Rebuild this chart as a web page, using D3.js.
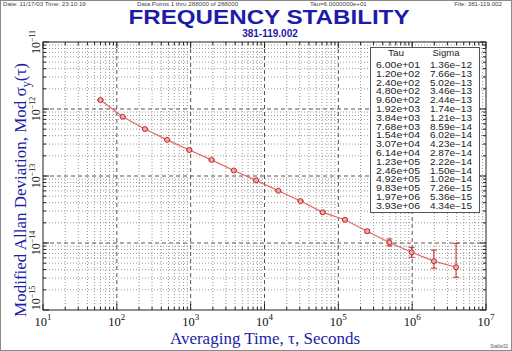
<!DOCTYPE html>
<html>
<head>
<meta charset="utf-8">
<script src="https://cdn.jsdelivr.net/npm/d3@7"></script>
<style>
  body { margin: 0; background: #fff; }
  svg { display: block; }
</style>
</head>
<body>
<svg width="512" height="351"></svg>
<script>
// data
const tau = [6.00e+01, 1.20e+02, 2.40e+02, 4.80e+02, 9.60e+02, 1.92e+03, 3.84e+03, 7.68e+03,
  1.54e+04, 3.07e+04, 6.14e+04, 1.23e+05, 2.46e+05, 4.92e+05, 9.83e+05, 1.97e+06, 3.93e+06];
const sigma = [1.36e-12, 7.66e-13, 5.02e-13, 3.46e-13, 2.44e-13, 1.74e-13, 1.21e-13, 8.59e-14,
  6.02e-14, 4.23e-14, 2.87e-14, 2.22e-14, 1.50e-14, 1.02e-14, 7.26e-15, 5.36e-15, 4.34e-15];
const sigmaLo = [1.34e-12, 7.56e-13, 4.96e-13, 3.42e-13, 2.41e-13, 1.72e-13, 1.19e-13, 8.47e-14,
  5.93e-14, 4.16e-14, 2.80e-14, 2.15e-14, 1.42e-14, 9.05e-15, 6.12e-15, 4.21e-15, 3.08e-15];
const sigmaHi = [1.38e-12, 7.76e-13, 5.08e-13, 3.50e-13, 2.47e-13, 1.76e-13, 1.23e-13, 8.71e-14,
  6.11e-14, 4.30e-14, 2.94e-14, 2.30e-14, 1.58e-14, 1.15e-14, 8.62e-15, 7.83e-15, 9.90e-15];
const tauLabels = ["6.00e+01", "1.20e+02", "2.40e+02", "4.80e+02", "9.60e+02", "1.92e+03", "3.84e+03",
  "7.68e+03", "1.54e+04", "3.07e+04", "6.14e+04", "1.23e+05", "2.46e+05", "4.92e+05", "9.83e+05",
  "1.97e+06", "3.93e+06"];
const sigmaLabels = ["1.36e-12", "7.66e-13", "5.02e-13", "3.46e-13", "2.44e-13", "1.74e-13", "1.21e-13",
  "8.59e-14", "6.02e-14", "4.23e-14", "2.87e-14", "2.22e-14", "1.50e-14", "1.02e-14", "7.26e-15",
  "5.36e-15", "4.34e-15"];
const xExps = [1, 2, 3, 4, 5, 6, 7];
const yExps = [-11, -12, -13, -14, -15];

const W = 512, H = 351;
const margin = {top: 42, right: 26, bottom: 41, left: 43};
const blue = "#1c1ca8";

const svg = d3.select("svg");

const x = d3.scaleLog().domain([1e1, 1e7]).range([margin.left, W - margin.right]);
const y = d3.scaleLog().domain([1e-15, 1e-11]).range([H - margin.bottom, margin.top]);

// outer frame
svg.append("rect")
  .attr("x", 0.5).attr("y", 0.5).attr("width", W - 1).attr("height", H - 1)
  .attr("fill", "#fff").attr("stroke", "#8a8a8a");

// header line
const hdr = svg.append("g").attr("font-family", "Liberation Sans, Arial, sans-serif")
  .attr("font-size", 6.2).attr("fill", "#444");
hdr.append("text").attr("x", 3).attr("y", 6).text("Date: 11/17/03   Time: 23:10:19");
hdr.append("text").attr("x", 137).attr("y", 6).text("Data Points 1 thru 288000 of 288000");
hdr.append("text").attr("x", 310).attr("y", 6).text("Tau=6.0000000e+01");
hdr.append("text").attr("x", 502).attr("y", 6).attr("text-anchor", "end").text("File: 381-119.002");

// titles
svg.append("text")
  .attr("x", 269).attr("y", 23.5).attr("text-anchor", "middle")
  .attr("font-family", "Liberation Sans, Arial, sans-serif").attr("font-weight", "bold")
  .attr("font-size", 20).attr("fill", blue)
  .attr("textLength", 281).attr("lengthAdjust", "spacingAndGlyphs")
  .text("FREQUENCY STABILITY");
svg.append("text")
  .attr("x", 270).attr("y", 37).attr("text-anchor", "middle")
  .attr("font-family", "Liberation Sans, Arial, sans-serif").attr("font-weight", "bold")
  .attr("font-size", 10).attr("fill", blue)
  .text("381-119.002");

// grid
const minorX = [], minorY = [];
for (let e = 1; e < 7; e++) for (let m = 2; m < 10; m++) minorX.push(m * Math.pow(10, e));
for (let e = -15; e < -11; e++) for (let m = 2; m < 10; m++) minorY.push(m * Math.pow(10, e));
const majorX = xExps.map(e => Math.pow(10, e));
const majorY = yExps.map(e => Math.pow(10, e));

const grid = svg.append("g");
grid.selectAll(".mx").data(minorX).enter().append("line")
  .attr("x1", d => x(d)).attr("x2", d => x(d))
  .attr("y1", y.range()[1]).attr("y2", y.range()[0])
  .attr("stroke", "#9a9a9a").attr("stroke-dasharray", "1,2");
grid.selectAll(".my").data(minorY).enter().append("line")
  .attr("y1", d => y(d)).attr("y2", d => y(d))
  .attr("x1", x.range()[0]).attr("x2", x.range()[1])
  .attr("stroke", "#9a9a9a").attr("stroke-dasharray", "1,2");
grid.selectAll(".Mx").data(majorX.slice(1, -1)).enter().append("line")
  .attr("x1", d => x(d)).attr("x2", d => x(d))
  .attr("y1", y.range()[1]).attr("y2", y.range()[0])
  .attr("stroke", "#555").attr("stroke-dasharray", "4,3");
grid.selectAll(".My").data(majorY.slice(1, -1)).enter().append("line")
  .attr("y1", d => y(d)).attr("y2", d => y(d))
  .attr("x1", x.range()[0]).attr("x2", x.range()[1])
  .attr("stroke", "#555").attr("stroke-dasharray", "4,3");

// inward ticks on all four sides
const tickG = svg.append("g").attr("stroke", "#222");
const [x0, x1] = x.range(), [yb, yt] = y.range();
minorX.concat(majorX).forEach(d => {
  const len = majorX.includes(d) ? 6 : 3;
  tickG.append("line").attr("x1", x(d)).attr("x2", x(d)).attr("y1", yb).attr("y2", yb - len);
  tickG.append("line").attr("x1", x(d)).attr("x2", x(d)).attr("y1", yt).attr("y2", yt + len);
});
minorY.concat(majorY).forEach(d => {
  const len = majorY.includes(d) ? 6 : 3;
  tickG.append("line").attr("y1", y(d)).attr("y2", y(d)).attr("x1", x0).attr("x2", x0 + len);
  tickG.append("line").attr("y1", y(d)).attr("y2", y(d)).attr("x1", x1).attr("x2", x1 - len);
});
svg.append("rect")
  .attr("x", x0).attr("y", yt).attr("width", x1 - x0).attr("height", yb - yt)
  .attr("fill", "none").attr("stroke", "#222");

// axis labels
const xl = svg.append("g").attr("font-family", "Liberation Serif, Times New Roman, serif").attr("fill", "#111");
xExps.forEach(e => {
  const t = xl.append("text").attr("x", x(Math.pow(10, e))).attr("y", 325.5)
    .attr("text-anchor", "middle").attr("font-size", 12.5);
  t.append("tspan").text("10");
  t.append("tspan").attr("dy", -6).attr("font-size", 9).text(e);
});
yExps.forEach(e => {
  let cy = y(Math.pow(10, e));
  if (cy + 12 > yb) cy = yb - 12;
  const t = xl.append("text")
    .attr("transform", `translate(40, ${cy}) rotate(-90)`)
    .attr("text-anchor", "middle").attr("font-size", 12);
  t.append("tspan").text("10");
  t.append("tspan").attr("dy", -5).attr("font-size", 8).text(String(e).replace("-", "\u2212"));
});

svg.append("text")
  .attr("x", 265).attr("y", 344).attr("text-anchor", "middle")
  .attr("font-family", "Liberation Serif, Times New Roman, serif")
  .attr("font-size", 17).attr("fill", blue)
  .text("Averaging Time, \u03c4, Seconds");

const yt2 = svg.append("text")
  .attr("transform", "translate(26, 190) rotate(-90)")
  .attr("text-anchor", "middle")
  .attr("font-family", "Liberation Serif, Times New Roman, serif")
  .attr("font-size", 17).attr("fill", blue);
yt2.append("tspan").text("Modified Allan Deviation, Mod \u03c3");
yt2.append("tspan").attr("dy", 4).attr("font-size", 12).text("y");
yt2.append("tspan").attr("dy", -4).text("(\u03c4)");

// data line, error bars, markers
const pts = tau.map((t, i) => ({t: t, s: sigma[i], lo: sigmaLo[i], hi: sigmaHi[i]}));
svg.append("path")
  .datum(pts)
  .attr("fill", "none").attr("stroke", "#e06868").attr("stroke-width", 1.2)
  .attr("d", d3.line().x(d => x(d.t)).y(d => y(d.s)));

const eb = svg.append("g").attr("stroke", "#c42a2a").attr("stroke-width", 1);
pts.forEach(d => {
  eb.append("line").attr("x1", x(d.t)).attr("x2", x(d.t)).attr("y1", y(d.lo)).attr("y2", y(d.hi));
  [d.lo, d.hi].forEach(v => {
    eb.append("line").attr("x1", x(d.t) - 3).attr("x2", x(d.t) + 3).attr("y1", y(v)).attr("y2", y(v));
  });
});
svg.selectAll(".pt").data(pts).enter().append("circle")
  .attr("cx", d => x(d.t)).attr("cy", d => y(d.s)).attr("r", 2.5)
  .attr("fill", "#f2a8a8").attr("stroke", "#c42a2a").attr("stroke-width", 1);

// value table
const tb = svg.append("g").attr("font-family", "Liberation Sans, Arial, sans-serif")
  .attr("font-size", 8.2).attr("fill", "#222");
tb.append("rect").attr("x", 370.5).attr("y", 47.5).attr("width", 109).attr("height", 165)
  .attr("fill", "#fff").attr("stroke", "#555");
tb.append("text").attr("x", 396).attr("y", 56).attr("text-anchor", "middle")
  .attr("textLength", 16).attr("lengthAdjust", "spacingAndGlyphs").text("Tau");
tb.append("text").attr("x", 446).attr("y", 56).attr("text-anchor", "middle")
  .attr("textLength", 27).attr("lengthAdjust", "spacingAndGlyphs").text("Sigma");
tauLabels.forEach((lab, i) => {
  tb.append("text").attr("x", 376).attr("y", 68 + i * 8.8)
    .attr("textLength", 44).attr("lengthAdjust", "spacingAndGlyphs").text(lab);
  tb.append("text").attr("x", 430).attr("y", 68 + i * 8.8)
    .attr("textLength", 42).attr("lengthAdjust", "spacingAndGlyphs")
    .text(sigmaLabels[i].replace("e-", "e\u2212"));
});

svg.append("text").attr("x", 508).attr("y", 348).attr("text-anchor", "end")
  .attr("font-family", "Liberation Sans, Arial, sans-serif").attr("font-size", 4.5)
  .attr("fill", "#555").text("Stable32");
</script>
</body>
</html>
